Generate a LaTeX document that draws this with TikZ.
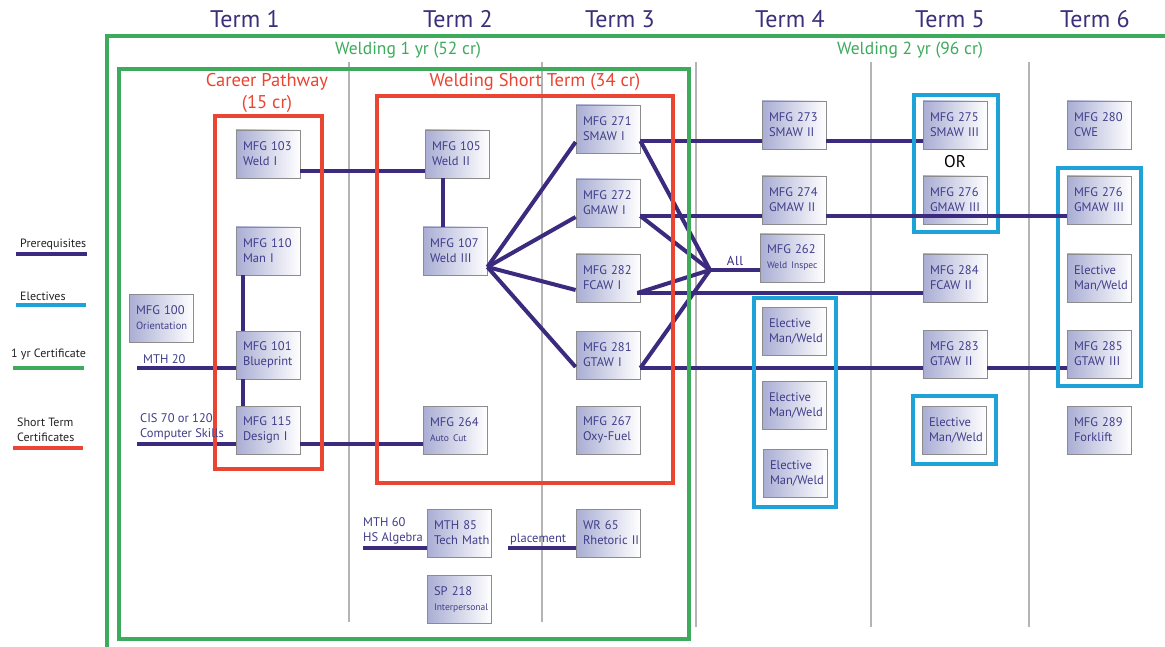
\documentclass[tikz,border=0pt]{standalone}
\usepackage{fontspec}
\setmainfont{PT Sans}
\usetikzlibrary{calc}
\definecolor{ink}{HTML}{3B2A7E}
\definecolor{titlec}{HTML}{3A2F7A}
\definecolor{boxtext}{HTML}{403D8A}
\definecolor{cgreen}{HTML}{3DAA5C}
\definecolor{cred}{HTML}{EA4532}
\definecolor{cblue}{HTML}{1EA3D9}
\definecolor{divgray}{HTML}{B4B4B4}
\definecolor{boxfill}{HTML}{A9ADD3}
\definecolor{boxedge}{HTML}{8C8C8C}
\definecolor{legtext}{HTML}{222222}
\newcommand\smalltxtfont{\fontsize{9.5}{11}\selectfont}
\tikzset{
  course/.style={draw=boxedge, line width=0.8pt, left color=boxfill, right color=white,
    minimum width=64, minimum height=48, text width=50pt, inner sep=0pt, align=left,
    text=boxtext, font=\fontsize{12.5}{15}\selectfont},
  prereq/.style={draw=ink, line width=4pt},
  divider/.style={draw=divgray, line width=1.2pt},
  gframe/.style={draw=cgreen, line width=4pt},
  rframe/.style={draw=cred, line width=4pt},
  bframe/.style={draw=cblue, line width=4.5pt},
  termtitle/.style={text=titlec, font=\fontsize{24}{28}\selectfont, inner sep=0pt},
  greenlbl/.style={text=cgreen, font=\fontsize{17.5}{20}\selectfont, inner sep=0pt},
  redlbl/.style={text=cred, font=\fontsize{18.5}{22}\selectfont, inner sep=0pt, align=center},
  leglbl/.style={text=legtext, font=\fontsize{12}{14.5}\selectfont, inner sep=0pt, anchor=west, align=left},
  prelbl/.style={text=boxtext, font=\fontsize{12.5}{15}\selectfont, inner sep=0pt, anchor=west, align=left}
}
\begin{document}
\begin{tikzpicture}[x=1pt,y=-1pt]
\useasboundingbox (0,0) rectangle (1165,647);
\fill[white] (0,0) rectangle (1165,647);

% term dividers
\draw[divider] (349,62) -- (349,622);
\draw[divider] (542,62) -- (542,622);
\draw[divider] (696,62) -- (696,627);
\draw[divider] (871,62) -- (871,627);
\draw[divider] (1029,62) -- (1029,627);

% titles
\node[termtitle] (t1) at (245,19) {Term 1};
\node[termtitle] (t2) at (458,19) {Term 2};
\node[termtitle] (t3) at (620,19) {Term 3};
\node[termtitle] (t4) at (790,19) {Term 4};
\node[termtitle] (t5) at (950,19) {Term 5};
\node[termtitle] (t6) at (1095,19) {Term 6};

\node[greenlbl] (w1) at (408,50) {Welding 1 yr (52 cr)};
\node[greenlbl] (w2) at (910,50) {Welding 2 yr (96 cr)};
\node[redlbl] (cp) at (267,93) {Career Pathway\\(15 cr)};
\node[redlbl] (wst) at (535,82) {Welding Short Term (34 cr)};

% legend
\node[leglbl] (lg1) at (20,244) {Prerequisites};
\coordinate (lg1a) at (16,254); \coordinate (lg1b) at (87,254);
\draw[prereq] (lg1a) -- (lg1b);
\node[leglbl] (lg2) at (20,296) {Electives};
\coordinate (lg2a) at (16,305); \coordinate (lg2b) at (86,305);
\draw[bframe] (lg2a) -- (lg2b);
\node[leglbl] (lg3) at (11,354) {1 yr Certificate};
\coordinate (lg3a) at (13,368); \coordinate (lg3b) at (84,368);
\draw[gframe] (lg3a) -- (lg3b);
\node[leglbl] (lg4) at (17,430) {Short Term\\Certificates};
\coordinate (lg4a) at (13,448); \coordinate (lg4b) at (83,448);
\draw[rframe] (lg4a) -- (lg4b);

% courses
\node[course] (b103) at (268,154) {\mbox{MFG 103}\\\mbox{Weld I}};
\node[course] (b110) at (268,251) {\mbox{MFG 110}\\\mbox{Man I}};
\node[course] (b101) at (268,355) {\mbox{MFG 101}\\\mbox{Blueprint}};
\node[course] (b115) at (268,430) {\mbox{MFG 115}\\\mbox{Design I}};
\node[course] (b100) at (161,318) {\mbox{MFG 100}\\\mbox{\fontsize{10.5}{12}\selectfont Orientation}};
\node[course] (b105) at (457,154) {\mbox{MFG 105}\\\mbox{Weld II}};
\node[course] (b107) at (455,251) {\mbox{MFG 107}\\\mbox{Weld III}};
\node[course] (b264) at (455,430) {\mbox{MFG 264}\\\mbox{\smalltxtfont Auto Cut}};
\node[course] (b271) at (608,129) {\mbox{MFG 271}\\\mbox{SMAW I}};
\node[course] (b272) at (608,203) {\mbox{MFG 272}\\\mbox{GMAW I}};
\node[course] (b282) at (608,278) {\mbox{MFG 282}\\\mbox{FCAW I}};
\node[course] (b281) at (608,355) {\mbox{MFG 281}\\\mbox{GTAW I}};
\node[course] (b267) at (608,430) {\mbox{MFG 267}\\\mbox{Oxy-Fuel}};
\node[course] (b85) at (459,533) {\mbox{MTH 85}\\\mbox{Tech Math}};
\node[course] (b218) at (459,599) {\mbox{SP 218}\\\mbox{\smalltxtfont Interpersonal}};
\node[course] (bwr) at (608,533) {\mbox{WR 65}\\\mbox{Rhetoric II}};
\node[course] (b273) at (794,125) {\mbox{MFG 273}\\\mbox{SMAW II}};
\node[course] (b274) at (794,200) {\mbox{MFG 274}\\\mbox{GMAW II}};
\node[course] (b262) at (792,258) {\mbox{MFG 262}\\\mbox{\smalltxtfont Weld Inspec}};
\node[course] (e4a) at (794,331) {\mbox{Elective}\\\mbox{Man/Weld}};
\node[course] (e4b) at (794,405) {\mbox{Elective}\\\mbox{Man/Weld}};
\node[course] (e4c) at (795,473) {\mbox{Elective}\\\mbox{Man/Weld}};
\node[course] (b275) at (955,125) {\mbox{MFG 275}\\\mbox{SMAW III}};
\node[course] (b276a) at (955,200) {\mbox{MFG 276}\\\mbox{GMAW III}};
\node[course] (b284) at (955,278) {\mbox{MFG 284}\\\mbox{FCAW II}};
\node[course] (b283) at (955,354) {\mbox{MFG 283}\\\mbox{GTAW II}};
\node[course] (e5) at (954,430) {\mbox{Elective}\\\mbox{Man/Weld}};
\node[course] (b280) at (1099,125) {\mbox{MFG 280}\\\mbox{CWE}};
\node[course] (b276b) at (1099,200) {\mbox{MFG 276}\\\mbox{GMAW III}};
\node[course] (e6) at (1099,278) {\mbox{Elective}\\\mbox{Man/Weld}};
\node[course] (b285) at (1099,354) {\mbox{MFG 285}\\\mbox{GTAW III}};
\node[course] (b289) at (1099,430) {\mbox{MFG 289}\\\mbox{Forklift}};

\node[text=black, font=\fontsize{17}{18}\selectfont, inner sep=0pt] (or) at (955,162) {OR};
\node[text=ink, font=\fontsize{13}{14}\selectfont, inner sep=0pt] (all) at (735,261) {A\kern0.6pt l\kern0.6pt l};

% prerequisite connectors
\coordinate (m20) at (137,368);
\coordinate (cis) at (137,444);
\coordinate (m60) at (363,548);
\coordinate (plc) at (508,548);
\coordinate (fan) at ($(b107.east)+(0,16)$);
\coordinate (alljn) at (710,270);
\coordinate (s271) at ($(b271.east)+(0,12)$);
\coordinate (s272) at ($(b272.east)+(0,13)$);
\coordinate (s282) at ($(b282.east)+(-3,15)$);
\coordinate (s281) at ($(b281.east)+(0,13)$);
\coordinate (w103) at ($(b103.east)+(0,17)$);
\coordinate (v110) at ($(b110.south west)+(7,0)$);
\coordinate (v105) at ($(b105.south west)+(18,0)$);

\begin{scope}[prereq]
\draw (w103) -- (w103 -| b105.west);
\draw (v110) -- (v110 |- b101.north);
\draw (v110 |- b101.south) -- (v110 |- b115.north);
\draw (v105) -- (v105 |- b107.north);
\draw (m20) -- (m20 -| b101.west);
\draw (cis) -- (cis -| b115.west);
\draw (cis -| b115.east) -- (cis -| b264.west);
\draw (m60) -- (m60 -| b85.west);
\draw (plc) -- (plc -| bwr.west);
\draw (fan) -- ($(b271.west)+(0,13)$);
\draw (fan) -- ($(b272.west)+(0,14)$);
\draw (fan) -- ($(b282.west)+(0,12)$);
\draw (fan) -- ($(b281.west)+(0,12)$);
\draw (s271) -- (alljn);
\draw (s272) -- (alljn);
\draw (s282) -- (alljn);
\draw (s281) -- (alljn);
\draw (alljn) -- (alljn -| b262.west);
\draw (s271) -- (s271 -| b273.west);
\draw (s271 -| b273.east) -- (s271 -| b275.west);
\draw (s272) -- (s272 -| b274.west);
\draw (s282) -- (s282 -| b284.west);
\draw (s281) -- (s281 -| b283.west);
\draw (s281 -| b283.east) -- (s281 -| b285.west);
\end{scope}

% frames
\draw[gframe] (107,650) -- (107,36) -- (1170,36);
\draw[gframe] (119,69) rectangle (689,639);
\draw[rframe] (215,116) rectangle (322,469);
\draw[rframe] (377,96) rectangle (673,483);
\draw[bframe] (914,95) rectangle (998,232);
\draw[bframe] (1058,168) rectangle (1141,386);
\draw[bframe] (754,298) rectangle (836,507);
\draw[bframe] (913,396) rectangle (996,464);

% line passing over Term 5 GMAW III
\draw[prereq] (s272 -| b274.east) -- (s272 -| b276b.west);

% labels of prerequisites
\node[prelbl] (lm20) at (143,359) {MTH 20};
\node[prelbl] (lcis) at (140,427) {CIS 70 or 120\\Computer Skills};
\node[prelbl] (lm60) at (363,531) {MTH 60\\HS Algebra};
\node[prelbl] (lplc) at (510,539) {placement};
\end{tikzpicture}
\end{document}
